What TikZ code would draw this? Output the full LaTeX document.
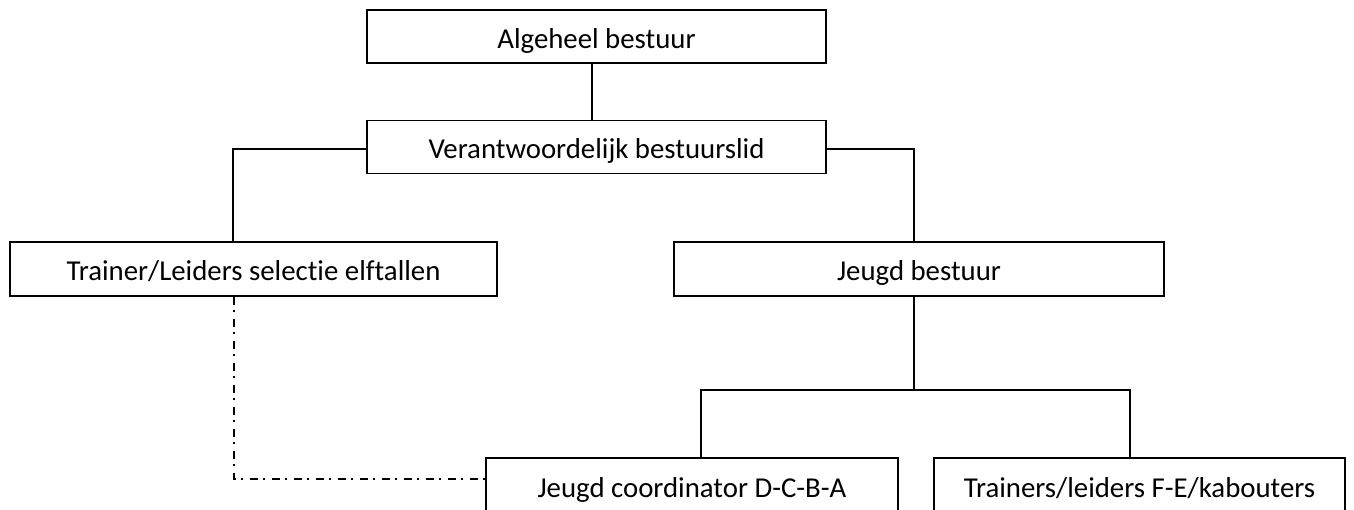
\documentclass[tikz,border=0pt]{standalone}
\usepackage{fontspec}
\setmainfont[Ligatures={NoCommon}]{Carlito}
\begin{document}
\begin{tikzpicture}[x=1pt,y=-1pt,
  orgbox/.style={draw=black, line width=1.8pt, rectangle, inner sep=0pt, text height=23.6pt, text depth=0pt, font=\fontsize{28.8}{34}\selectfont},
  conn/.style={draw=black, line width=1.3pt},
  dotdash/.style={draw=black, line width=1.3pt, dash pattern=on 8pt off 5pt on 2pt off 7pt}]
\useasboundingbox (0,0) rectangle (1354,510);
\node[orgbox, minimum width=459pt, minimum height=53pt] (b1) at (596.5,36.5) {Algeheel bestuur};
\node[orgbox, minimum width=459pt, minimum height=53pt] (b2) at (596.5,147) {Verantwoordelijk bestuurslid};
\node[orgbox, minimum width=487pt, minimum height=54pt] (b3) at (253.5,269) {Trainer/Leiders selectie elftallen};
\node[orgbox, minimum width=490pt, minimum height=54pt] (b4) at (919,269) {Jeugd bestuur};
\node[orgbox, minimum width=412pt, minimum height=55pt] (b5) at (692,485.5) {Jeugd coordinator D-C-B-A};
\node[orgbox, minimum width=411pt, minimum height=55pt] (b6) at (1139.5,485.5) {Trainers/leiders F-E/kabouters};
\coordinate (top) at (592,0);
\coordinate (lx) at (233,149);
\coordinate (rx) at (914,149);
\coordinate (jl) at (701,390);
\coordinate (jr) at (1130,390);
\coordinate (jm) at (914,390);
\coordinate (dd) at (234,479);
\draw[conn] (b1.south -| top) -- (b2.north -| top);
\draw[conn] (b2.west |- lx) -- (lx) -- (lx |- b3.north);
\draw[conn] (b2.east |- rx) -- (rx) -- (rx |- b4.north);
\draw[conn] (b4.south -| jm) -- (jm);
\draw[conn] (jl |- b5.north) -- (jl) -- (jr) -- (jr |- b6.north);
\draw[dotdash] (b3.south -| dd) -- (dd) -- (dd -| b5.west);
\end{tikzpicture}
\end{document}
